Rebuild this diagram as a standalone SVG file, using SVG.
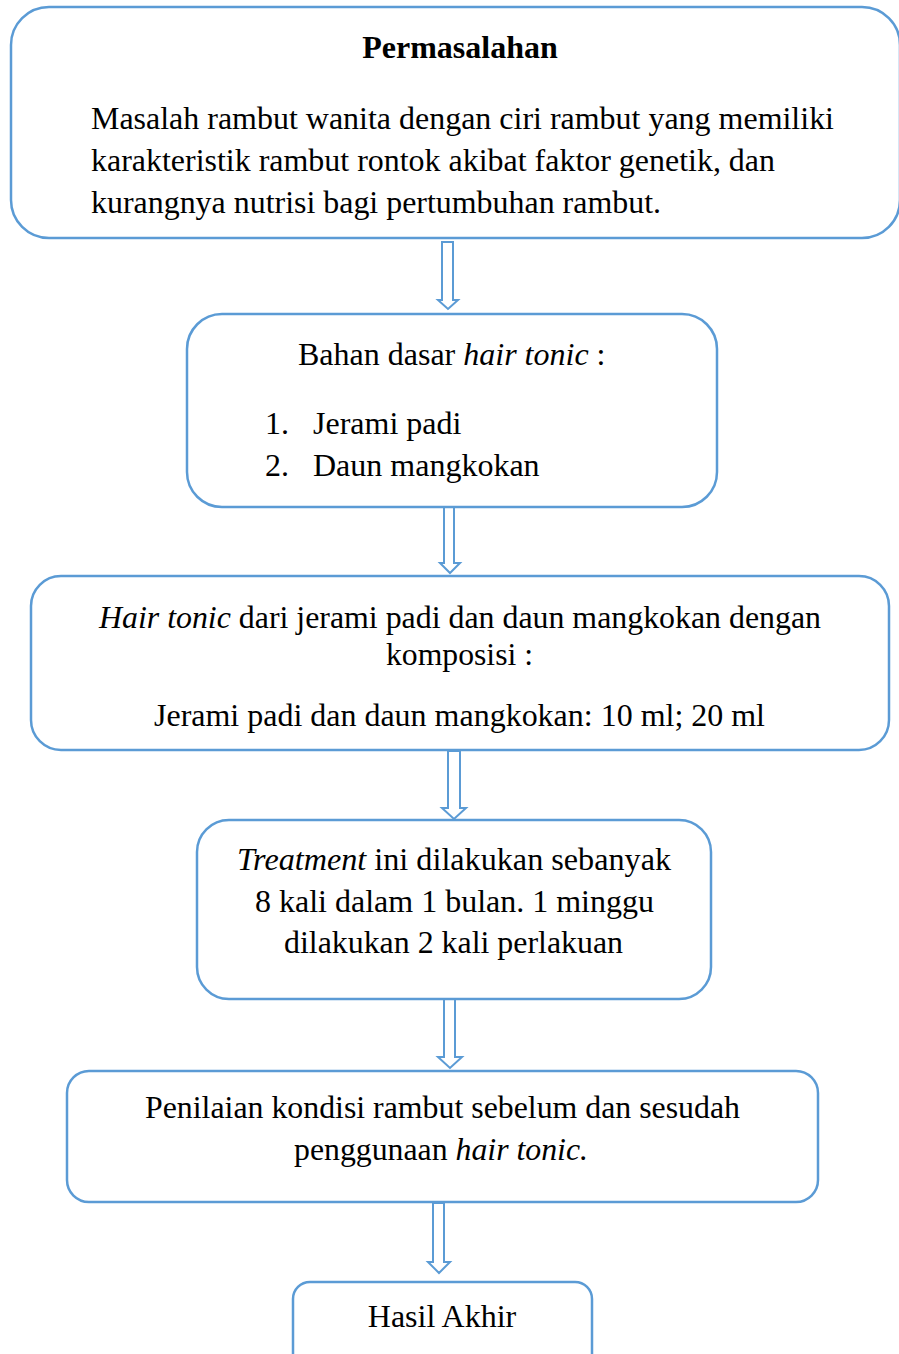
<svg xmlns="http://www.w3.org/2000/svg" width="899" height="1354" viewBox="0 0 899 1354">
  <style>
    .box { fill: #ffffff; stroke: #5B9BD5; stroke-width: 2.5; }
    .arrow { fill: #ffffff; stroke: #5B9BD5; stroke-width: 2; stroke-linejoin: miter; }
    .t { font-family: "Liberation Serif", "Times New Roman", serif; font-size: 32px; fill: #000000; }
    .c { text-anchor: middle; }
    .b { font-weight: bold; }
    .i { font-style: italic; }
  </style>
  <rect width="899" height="1354" fill="#ffffff"/>

  <!-- block arrows between the steps -->
  <g id="connectors">
    <polygon class="arrow" points="442,242 453,242 453,300 458,300 448,309 438,300 442,300"/>
    <polygon class="arrow" points="444,507 454,507 454,563 460,563 450,573 440,563 444,563"/>
    <polygon class="arrow" points="448,751 460,751 460,808 466,808 454,819 442,808 448,808"/>
    <polygon class="arrow" points="444,999 455,999 455,1057 462,1057 450,1068 438,1057 444,1057"/>
    <polygon class="arrow" points="433,1203 444,1203 444,1262 450,1262 439,1273 428,1262 433,1262"/>
  </g>

  <g id="node-permasalahan">
    <rect class="box" x="11" y="7" width="889" height="231" rx="38" ry="38"/>
    <text class="t b c" x="460" y="58">Permasalahan</text>
    <text class="t" x="91" y="129" textLength="743" lengthAdjust="spacingAndGlyphs">Masalah rambut wanita dengan ciri rambut yang memiliki</text>
    <text class="t" x="91" y="171" textLength="684" lengthAdjust="spacingAndGlyphs">karakteristik rambut rontok akibat faktor genetik, dan</text>
    <text class="t" x="91" y="213" textLength="570" lengthAdjust="spacingAndGlyphs">kurangnya nutrisi bagi pertumbuhan rambut.</text>
  </g>

  <g id="node-bahan">
    <rect class="box" x="187" y="314" width="530" height="193" rx="35" ry="35"/>
    <text class="t" x="298" y="365">Bahan dasar <tspan class="i">hair tonic</tspan> :</text>
    <text class="t" x="265" y="434">1.</text>
    <text class="t" x="313" y="434">Jerami padi</text>
    <text class="t" x="265" y="476">2.</text>
    <text class="t" x="313" y="476">Daun mangkokan</text>
  </g>

  <g id="node-komposisi">
    <rect class="box" x="31" y="576" width="858" height="174" rx="30" ry="30"/>
    <text class="t" x="99" y="628" textLength="722" lengthAdjust="spacingAndGlyphs"><tspan class="i">Hair tonic</tspan> dari jerami padi dan daun mangkokan dengan</text>
    <text class="t" x="386" y="665" textLength="147" lengthAdjust="spacingAndGlyphs">komposisi :</text>
    <text class="t" x="154" y="726" textLength="611" lengthAdjust="spacingAndGlyphs">Jerami padi dan daun mangkokan: 10 ml; 20 ml</text>
  </g>

  <g id="node-treatment">
    <rect class="box" x="197" y="820" width="514" height="179" rx="32" ry="32"/>
    <text class="t" x="237" y="870" textLength="434" lengthAdjust="spacingAndGlyphs"><tspan class="i">Treatment</tspan> ini dilakukan sebanyak</text>
    <text class="t" x="255" y="912" textLength="399" lengthAdjust="spacingAndGlyphs">8 kali dalam 1 bulan. 1 minggu</text>
    <text class="t" x="284" y="953" textLength="339" lengthAdjust="spacingAndGlyphs">dilakukan 2 kali perlakuan</text>
  </g>

  <g id="node-penilaian">
    <rect class="box" x="67" y="1071" width="751" height="131" rx="22" ry="22"/>
    <text class="t" x="145" y="1118" textLength="595" lengthAdjust="spacingAndGlyphs">Penilaian kondisi rambut sebelum dan sesudah</text>
    <text class="t" x="294" y="1160" textLength="294" lengthAdjust="spacingAndGlyphs">penggunaan <tspan class="i">hair tonic.</tspan></text>
  </g>

  <g id="node-hasil">
    <rect class="box" x="293" y="1282" width="299" height="95" rx="17" ry="17"/>
    <text class="t c" x="442" y="1327">Hasil Akhir</text>
  </g>
</svg>
